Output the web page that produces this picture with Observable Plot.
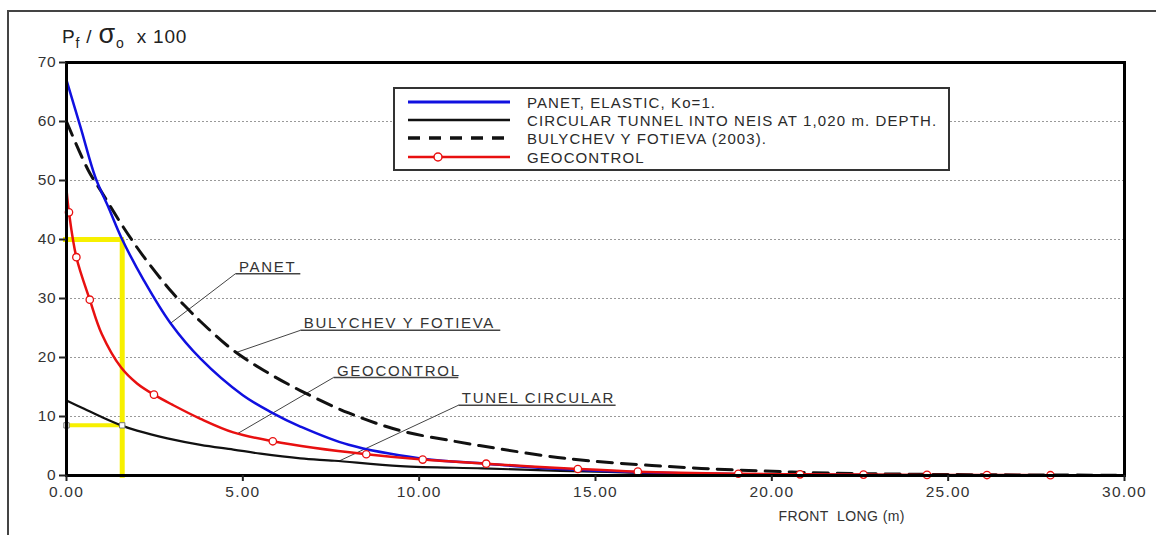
<!DOCTYPE html>
<html>
<head>
<meta charset="utf-8">
<script src="https://cdn.jsdelivr.net/npm/d3@7"></script>
<script src="https://cdn.jsdelivr.net/npm/@observablehq/plot@0.6"></script>
<style>
  body { margin: 0; background: #fff; }
  #wrap { position: relative; width: 1156px; height: 535px; overflow: hidden; font-family: "Liberation Sans", Arial, sans-serif; color: #222; }
  #frame { position: absolute; left: 7px; top: 10px; width: 1200px; height: 600px; border-left: 2px solid #444; border-top: 2px solid #444; }
  #chart { position: absolute; left: 0; top: 0; }
  #ytitle { position: absolute; left: 62px; top: 26px; font-size: 19px; letter-spacing: 0.8px; white-space: nowrap; color: #222; }
  #ytitle sub { font-size: 14px; }
  #legend { position: absolute; left: 393px; top: 87px; width: 553px; height: 80px; border: 2px solid #333; background: #fff; }
  .row { position: absolute; left: 0; height: 18px; display: flex; align-items: center; }
  .row svg { margin-left: 13px; }
  .row span { margin-left: 15px; font-size: 15px; letter-spacing: 1.1px; color: #2a2a2a; white-space: nowrap; }
</style>
</head>
<body>
<div id="wrap">
  <div id="frame"></div>
  <div id="chart"></div>
  <div id="ytitle"></div>
  <div id="legend"></div>
</div>
<script>
// ---- data ----
const xTicks = [0, 5, 10, 15, 20, 25, 30];
const yTicks = [0, 10, 20, 30, 40, 50, 60, 70];
const yGrid = [10, 20, 30, 40, 50, 60];

// PANET, ELASTIC, Ko=1.
const panetX = [0, 0.4, 0.82, 1.2, 1.58, 2.2, 2.95, 3.8, 5, 5.78, 6.63, 8, 10.04, 11.9, 14, 16, 18, 20, 23, 30];
const panetY = [67, 59, 50.5, 45.3, 40, 33, 25.8, 19.8, 13.6, 10.8, 8.3, 5.2, 2.9, 2.0, 1.1, 0.6, 0.3, 0.15, 0.05, 0];

// CIRCULAR TUNNEL INTO NEIS AT 1,020 m. DEPTH.
const tunnelX = [0, 0.5, 1, 1.55, 2, 2.86, 3.8, 4.73, 5.5, 6.63, 7.6, 9.47, 11.8, 14, 16, 18, 20, 23, 26, 30];
const tunnelY = [12.7, 11.3, 9.9, 8.5, 7.6, 6.3, 5.2, 4.4, 3.7, 2.9, 2.5, 1.6, 1.2, 0.8, 0.5, 0.3, 0.2, 0.1, 0.05, 0.02];

// BULYCHEV Y FOTIEVA (2003).
const bulyX = [0, 0.62, 1, 1.6, 2.2, 3, 3.43, 3.8, 4.73, 5.6, 6.63, 8, 9.47, 11, 12.2, 13.5, 14.8, 16.6, 18, 18.9, 21.7, 24, 27, 30];
const bulyY = [60, 51.7, 48, 42.2, 37, 31, 28.3, 26.1, 21.2, 17.8, 14.4, 10.6, 7.6, 5.8, 4.6, 3.4, 2.5, 1.7, 1.2, 0.95, 0.4, 0.22, 0.1, 0.05];

// GEOCONTROL
const geoX = [0, 0.07, 0.28, 0.66, 1.0, 1.55, 2.0, 2.48, 3.0, 3.8, 4.73, 5.85, 7.0, 8.5, 10.1, 11.9, 14.5, 16.2, 19.05, 20.8, 22.6, 24.4, 26.1, 27.9, 30];
const geoY = [48.5, 44.6, 37, 29.8, 24.0, 18.3, 15.6, 13.7, 12.0, 9.6, 7.3, 5.8, 4.7, 3.6, 2.7, 2.0, 1.1, 0.65, 0.3, 0.2, 0.15, 0.1, 0.08, 0.05, 0.03];
const geoMarkX = [0.07, 0.28, 0.66, 2.48, 5.85, 8.5, 10.1, 11.9, 14.5, 16.2, 19.05, 20.8, 22.6, 24.4, 26.1, 27.9];
const geoMarkY = [44.6, 37, 29.8, 13.7, 5.8, 3.6, 2.7, 2.0, 1.1, 0.65, 0.3, 0.2, 0.15, 0.1, 0.08, 0.05];

// yellow reading guide
const guideX = 1.58;
const guideY = [40, 8.5];

// annotations
const annLabels = ["PANET", "BULYCHEV Y FOTIEVA", "GEOCONTROL", "TUNEL CIRCULAR"];
const annCurveX = [2.95, 4.79, 4.85, 7.71];
const annCurveY = [25.8, 20.8, 7.1, 2.4];
const annElbowX = [4.79, 6.63, 7.57, 11.11];
const annElbowY = [34.2, 24.6, 16.6, 11.9];
const annEndX = [6.63, 12.3, 11.11, 15.57];

const legendLabels = ["PANET, ELASTIC, Ko=1.", "CIRCULAR TUNNEL INTO NEIS AT 1,020 m. DEPTH.", "BULYCHEV Y FOTIEVA (2003).", "GEOCONTROL"];
const xTitle = "FRONT  LONG (m)";

// ---- build tables ----
const toRows = (xs, ys) => xs.map((x, i) => ({x, y: ys[i]}));
const panet = toRows(panetX, panetY);
const tunnel = toRows(tunnelX, tunnelY);
const buly = toRows(bulyX, bulyY);
const geo = toRows(geoX, geoY);
const geoMarks = toRows(geoMarkX, geoMarkY);
const ann = annLabels.map((t, i) => ({t, cx: annCurveX[i], cy: annCurveY[i], ex: annElbowX[i], ey: annElbowY[i], endX: annEndX[i]}));

const chart = Plot.plot({
  width: 1156,
  height: 535,
  marginLeft: 66,
  marginRight: 32,
  marginTop: 62,
  marginBottom: 60,
  style: {fontFamily: "Liberation Sans, Arial, sans-serif", fontSize: "15px", color: "#222", background: "transparent"},
  x: {domain: [0, 30]},
  y: {domain: [0, 70]},
  marks: [
    Plot.gridY(yGrid, {stroke: "#999", strokeOpacity: 1, strokeWidth: 1, strokeDasharray: "2,2"}),
    // yellow guide
    Plot.link([{}], {x1: () => -0.1, x2: () => guideX + 0.05, y1: () => guideY[0], y2: () => guideY[0], stroke: "#f7f000", strokeWidth: 5}),
    Plot.link([{}], {x1: () => guideX, x2: () => guideX, y1: () => guideY[0], y2: () => -0.4, stroke: "#f7f000", strokeWidth: 5}),
    Plot.link([{}], {x1: () => 0, x2: () => guideX, y1: () => guideY[1], y2: () => guideY[1], stroke: "#f7f000", strokeWidth: 4}),
    // annotation leaders
    Plot.link(ann, {x1: "cx", y1: "cy", x2: "ex", y2: "ey", stroke: "#444", strokeWidth: 1}),
    Plot.link(ann, {x1: "ex", y1: "ey", x2: "endX", y2: "ey", stroke: "#444", strokeWidth: 1.5}),
    // curves
    Plot.line(buly, {x: "x", y: "y", stroke: "#111", strokeWidth: 3, strokeDasharray: "15,9", curve: "catmull-rom"}),
    Plot.line(tunnel, {x: "x", y: "y", stroke: "#111", strokeWidth: 2.2, curve: "catmull-rom"}),
    Plot.line(panet, {x: "x", y: "y", stroke: "#1010e0", strokeWidth: 2.5, curve: "catmull-rom"}),
    Plot.line(geo, {x: "x", y: "y", stroke: "#e81010", strokeWidth: 2.5, curve: "catmull-rom"}),
    Plot.dot(geoMarks, {x: "x", y: "y", r: 3.7, fill: "white", stroke: "#e81010", strokeWidth: 1.3}),
    Plot.dot([0, guideX], {x: d => d, y: () => guideY[1], symbol: "square", r: 3, fill: "white", stroke: "#777", strokeWidth: 1}),
    // annotation labels
    Plot.text(ann, {x: d => d.ex + 0.1, y: "ey", text: "t", textAnchor: "start", lineAnchor: "bottom", dy: -2, fontSize: 15, fill: "#333", ariaDescription: "ann-labels"}),
    // frame + axes
    Plot.frame({stroke: "#000", strokeWidth: 3}),
    Plot.axisY({ticks: yTicks, tickSize: 7, tickPadding: 3, strokeWidth: 2, label: null, fill: "#333"}),
    Plot.axisX({ticks: xTicks, tickFormat: d => d.toFixed(2), tickSize: 6, tickPadding: 4, strokeWidth: 2, label: null, fill: "#333"}),
    Plot.text([xTitle], {x: () => 21.98, frameAnchor: "bottom", dy: 45, text: d => d, fontSize: 14, fill: "#333", ariaDescription: "x-title"})
  ]
});
document.getElementById("chart").appendChild(chart);

// text spacing tweaks (the reference lettering is wide)
const svg = d3.select(chart);
svg.selectAll("g").each(function () {
  const desc = this.getAttribute("aria-description") || "";
  const texts = d3.select(this).selectAll(":scope > text");
  if (desc === "ann-labels") texts.style("letter-spacing", "1.7px");
  if (desc === "x-title") texts.style("letter-spacing", "0.4px");
});
const tickSet = new Set([...xTicks.map(d => d.toFixed(2)), ...yTicks.map(String)]);
svg.selectAll("text").each(function () {
  if (tickSet.has(this.textContent.trim())) {
    const isX = this.textContent.includes(".");
    d3.select(this).style("letter-spacing", isX ? "1.2px" : "0.8px").style("font-size", "15.5px");
  }
});

// y-axis title
document.getElementById("ytitle").innerHTML = 'P<sub>f</sub> / <span style="font-size:27px;line-height:0">σ</span><sub>o</sub>&nbsp; x 100';

// legend
const legend = document.getElementById("legend");
const legendTops = [4, 22, 40, 59];
legendLabels.forEach((label, i) => {
  const row = document.createElement("div");
  row.className = "row";
  row.style.top = legendTops[i] + "px";
  let line;
  if (i === 0) line = '<line x1="0" y1="9" x2="102" y2="9" stroke="#1010e0" stroke-width="3"/>';
  if (i === 1) line = '<line x1="0" y1="9" x2="102" y2="9" stroke="#111" stroke-width="2.5"/>';
  if (i === 2) line = '<line x1="0" y1="9" x2="102" y2="9" stroke="#111" stroke-width="3.5" stroke-dasharray="12,9"/>';
  if (i === 3) line = '<line x1="0" y1="9" x2="102" y2="9" stroke="#e81010" stroke-width="2.5"/><circle cx="30" cy="9" r="4" fill="white" stroke="#e81010" stroke-width="1.5"/>';
  row.innerHTML = '<svg width="104" height="18">' + line + '</svg><span>' + label + '</span>';
  legend.appendChild(row);
});
</script>
</body>
</html>
